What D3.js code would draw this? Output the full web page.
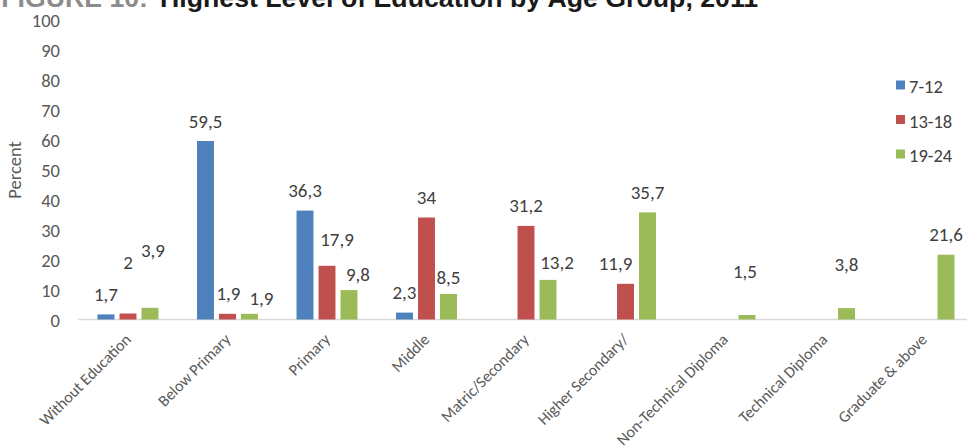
<!DOCTYPE html>
<html>
<head>
<meta charset="utf-8">
<script src="https://cdn.jsdelivr.net/npm/d3@7"></script>
<style>
  html, body { margin: 0; padding: 0; background: #fff; }
  svg { display: block; }
</style>
</head>
<body>
<svg id="chart" width="967" height="447"></svg>
<script>
// Education levels (x categories)
const categories = [
  "Without Education", "Below Primary", "Primary", "Middle",
  "Matric/Secondary", "Higher Secondary/", "Non-Technical Diploma",
  "Technical Diploma", "Graduate & above"
];
// Age groups
const seriesNames = ["7-12", "13-18", "19-24"];
// Percent per age group; null = no value reported
const values712  = [1.7, 59.5, 36.3, 2.3, null, null, null, null, null];
const values1318 = [2, 1.9, 17.9, 34, 31.2, 11.9, null, null, null];
const values1924 = [3.9, 1.9, 9.8, 8.5, 13.2, 35.7, 1.5, 3.8, 21.6];
const yTicks = [0, 10, 20, 30, 40, 50, 60, 70, 80, 90, 100];

const seriesValues = [values712, values1318, values1924];
const colors = ["#4f81bd", "#c0504d", "#9bbb59"];

// Label nudges (dx, dy in px) for labels that sit away from their bar
const labelNudge = {
  "0|1": [0, -31], "0|2": [3, -37],
  "1|1": [1, 0], "1|2": [12, 5],
  "2|1": [10, -6], "2|2": [9, 4],
  "3|2": [0, 3],
  "4|2": [9, 3],
  "5|1": [-10, 0],
  "6|2": [-2, -24], "7|2": [0, -24]
};

const svg = d3.select("#chart");
const font = "Carlito, Calibri, Lato, sans-serif";

const x0 = d3.scaleBand().domain(categories).range([78.25, 973.75]).padding(0);
const x1 = d3.scaleBand().domain(seriesNames).range([-33, 33])
  .paddingInner(0.23).paddingOuter(0.115);
const y = d3.scaleLinear().domain([0, 100]).range([319.5, 19.5]);

// Title (partly above the visible area)
svg.append("text")
  .attr("x", 148).attr("y", 7)
  .attr("text-anchor", "end")
  .attr("font-family", "'Liberation Sans', Arial, sans-serif")
  .attr("font-weight", "bold").attr("font-size", 26.7)
  .attr("fill", "#8c8c8c")
  .text("FIGURE 10:");
svg.append("text")
  .attr("x", 160).attr("y", 7)
  .attr("font-family", "'Liberation Sans', Arial, sans-serif")
  .attr("font-weight", "bold").attr("font-size", 26.7)
  .attr("fill", "#1a1a1a")
  .text("Highest Level of Education by Age Group, 2011");

// Y axis (labels only, no domain line)
const yAxis = d3.axisLeft(y).tickValues(yTicks).tickSize(0).tickPadding(0);
const gy = svg.append("g").attr("transform", "translate(60,1.5)").call(yAxis);
gy.select(".domain").remove();
gy.selectAll("text")
  .attr("font-family", font).attr("font-size", 18.5).attr("fill", "#595959");

svg.append("text")
  .attr("transform", "translate(21,170) rotate(-90)")
  .attr("text-anchor", "middle")
  .attr("font-family", font).attr("font-size", 18.5).attr("fill", "#595959")
  .text("Percent");

// Baseline
svg.append("line")
  .attr("x1", 78).attr("x2", 967)
  .attr("y1", y(0)).attr("y2", y(0))
  .attr("stroke", "#d9d9d9").attr("stroke-width", 1.5);

// Bars and value labels
const records = [];
categories.forEach((c, ci) => {
  seriesNames.forEach((s, si) => {
    const v = seriesValues[si][ci];
    if (v !== null) records.push({ c, ci, s, si, v });
  });
});

svg.append("g").selectAll("rect").data(records).join("rect")
  .attr("x", d => x0(d.c) + x0.bandwidth() / 2 + x1(d.s))
  .attr("y", d => y(d.v))
  .attr("width", x1.bandwidth())
  .attr("height", d => y(0) - y(d.v))
  .attr("fill", d => colors[d.si]);

const fmt = v => String(v).replace(".", ",");
svg.append("g").selectAll("text").data(records).join("text")
  .attr("x", d => {
    const n = labelNudge[d.ci + "|" + d.si] || [0, 0];
    return x0(d.c) + x0.bandwidth() / 2 + x1(d.s) + x1.bandwidth() / 2 + n[0];
  })
  .attr("y", d => {
    const n = labelNudge[d.ci + "|" + d.si] || [0, 0];
    return y(d.v) - 13.5 + n[1];
  })
  .attr("text-anchor", "middle")
  .attr("font-family", font).attr("font-size", 19).attr("fill", "#404040")
  .text(d => fmt(d.v));

// X axis category labels, rotated
const xAxis = d3.axisBottom(x0).tickSize(0).tickPadding(0);
const gx = svg.append("g").attr("transform", `translate(0,${y(0)})`).call(xAxis);
gx.select(".domain").remove();
gx.selectAll("text")
  .attr("font-family", font).attr("font-size", 16).attr("fill", "#595959")
  .attr("text-anchor", "end")
  .attr("dy", null)
  .attr("transform", "translate(4,21) rotate(-45)");

// Legend
const legend = svg.append("g");
seriesNames.forEach((s, i) => {
  const ly = 86 + i * 34.5;
  legend.append("rect")
    .attr("x", 896).attr("y", ly - 5.5).attr("width", 9).attr("height", 9)
    .attr("fill", colors[i]);
  legend.append("text")
    .attr("x", 909).attr("y", ly + 7)
    .attr("font-family", font).attr("font-size", 18.5).attr("fill", "#404040")
    .text(s);
});
</script>
</body>
</html>
